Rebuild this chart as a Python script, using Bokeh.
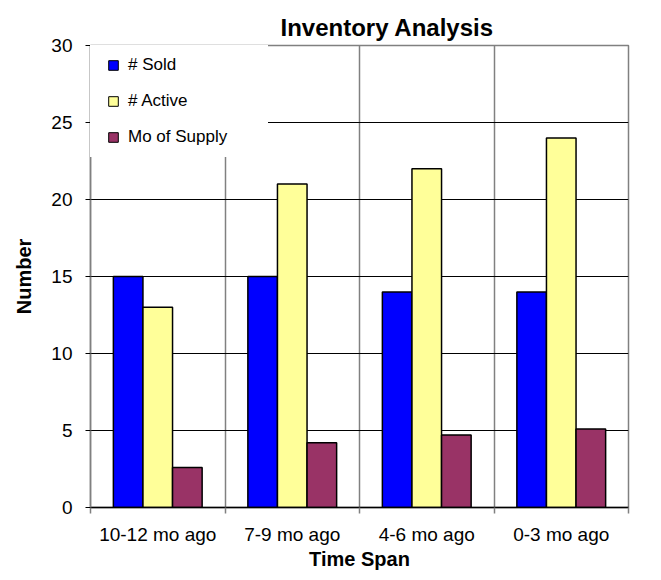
import numpy as np
from bokeh.plotting import figure
from bokeh.models import (Range1d, FixedTicker, SingleIntervalTicker, ColumnDataSource,
                          Legend, LegendItem)
from bokeh.transform import dodge
from bokeh.embed import file_html
from bokeh.resources import INLINE

categories = ["10-12 mo ago", "7-9 mo ago", "4-6 mo ago", "0-3 mo ago"]
sold = [15, 15, 14, 14]
active = [13, 21, 22, 24]
supply = [2.6, 4.2, 4.7, 5.1]
series_names = ["# Sold", "# Active", "Mo of Supply"]
series_colors = ["#0000FF", "#FFFF99", "#993366"]

FONT = "Liberation Sans"

pos = np.arange(len(categories)) + 0.5
source = ColumnDataSource(dict(pos=pos, cat=categories, sold=sold, active=active, supply=supply))

p = figure(width=653, height=572, output_backend="svg", toolbar_location=None,
           x_range=Range1d(0, len(categories)), y_range=Range1d(0, 30),
           min_border_left=90, min_border_right=25, min_border_top=45, min_border_bottom=63)
p.background_fill_color = "white"
p.border_fill_color = "white"
p.outline_line_color = "#808080"
p.outline_line_width = 1.5

# Title
p.title.text = "Inventory Analysis"
p.title.text_font = FONT
p.title.text_font_size = "24px"
p.title.text_font_style = "bold"
p.title.text_color = "black"
p.title.align = "left"
p.title.offset = 190
p.title.standoff = 9

# bars
cols = ["sold", "active", "supply"]
offsets = [-0.22, 0.0, 0.22]
renderers = []
for col, off, color in zip(cols, offsets, series_colors):
    p.vbar(x=dodge("pos", off), top=col, width=0.22, source=source,
           fill_color=color, line_color="black", line_width=1.5)
    # zero-size square markers used only as legend swatches
    r = p.scatter(x=dodge("pos", off), y=col, source=source, size=0, marker="square",
                  fill_color=color, line_color="black", line_width=1, line_alpha=1)
    renderers.append(r)

# x axis
xa = p.xaxis[0]
xa.ticker = FixedTicker(ticks=list(pos), minor_ticks=list(range(len(categories) + 1)))
xa.major_label_overrides = {float(v): c for v, c in zip(pos, categories)}
xa.major_tick_out = 0
xa.major_tick_in = 0
xa.minor_tick_out = 6
xa.minor_tick_in = 0
xa.minor_tick_line_color = "#808080"
xa.minor_tick_line_width = 1.5
xa.axis_line_color = "black"
xa.axis_line_width = 1.5
xa.major_label_text_font = FONT
xa.major_label_text_font_size = "19px"
xa.major_label_text_color = "black"
xa.major_label_standoff = 10
xa.axis_label = "Time Span"
xa.axis_label_text_font = FONT
xa.axis_label_text_font_size = "20px"
xa.axis_label_text_font_style = "bold"
xa.axis_label_text_color = "black"
xa.axis_label_standoff = 0

# y axis
ya = p.yaxis[0]
ya.ticker = SingleIntervalTicker(interval=5, num_minor_ticks=0)
ya.major_tick_out = 5
ya.major_tick_in = 0
ya.major_tick_line_color = "black"
ya.minor_tick_line_color = None
ya.axis_line_color = "#808080"
ya.axis_line_width = 1.5
ya.major_label_text_font = FONT
ya.major_label_text_font_size = "19px"
ya.major_label_text_color = "black"
ya.major_label_standoff = 13
ya.axis_label = "Number"
ya.axis_label_text_font = FONT
ya.axis_label_text_font_size = "20px"
ya.axis_label_text_font_style = "bold"
ya.axis_label_text_color = "black"
ya.axis_label_standoff = 13

# grids
p.ygrid.ticker = FixedTicker(ticks=[5, 10, 15, 20, 25])
p.ygrid.grid_line_color = "black"
p.ygrid.grid_line_width = 1
p.xgrid.ticker = FixedTicker(ticks=list(range(1, len(categories))))
p.xgrid.grid_line_color = "#808080"
p.xgrid.grid_line_width = 1.5

# legend
items = [LegendItem(label=name, renderers=[r]) for name, r in zip(series_names, renderers)]
legend = Legend(items=items, location="top_left", margin=0, padding=8, spacing=12,
                glyph_width=30, glyph_height=24, label_standoff=0, label_width=132,
                label_text_font=FONT, label_text_font_size="17px", label_text_color="black",
                background_fill_color="white", background_fill_alpha=1.0,
                border_line_color="#808080", border_line_alpha=0.0)
p.add_layout(legend)

open("out.html", "w").write(file_html(p, INLINE))
